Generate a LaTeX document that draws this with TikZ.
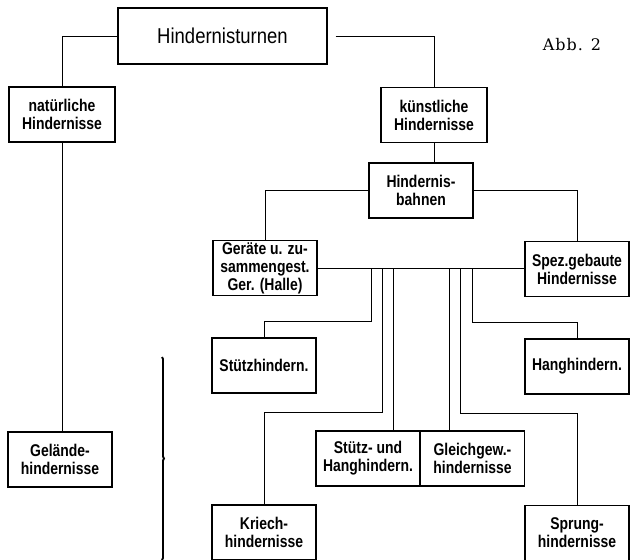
\documentclass[tikz,border=0pt]{standalone}
\usepackage{fontspec}
\setmainfont{Liberation Sans}
\newfontfamily\condfont[FakeStretch=0.82]{Liberation Sans}
\newfontfamily\bigfont[FakeStretch=0.86]{Liberation Sans}
\newfontfamily\abbfont[LetterSpace=6]{DejaVu Serif}
\usetikzlibrary{decorations.pathreplacing}

\begin{document}
\begin{tikzpicture}[x=1pt, y=-1pt, box/.style={draw, rectangle, line width=1.1pt, minimum width=104pt, minimum height=55pt, inner sep=0pt, align=center, font=\condfont\bfseries\fontsize{17}{18}\selectfont}, top/.style={box, minimum width=209pt, minimum height=56pt, font=\bigfont\fontsize{21.5}{23}\selectfont}, n/.style={line width=0.9pt}]
            \useasboundingbox (0,0) rectangle (630,560);
            % nodes
            \node[top] (turnen) at (222.5,36) {Hindernisturnen};
            \node[font=\abbfont\fontsize{16}{18}\selectfont] (abb) at (572,45) {Abb. 2};
            \node[box, minimum width=106pt] (nat) at (62,114.5) {natürliche\\Hindernisse};
            \node[box, minimum width=106pt] (kuen) at (434,115) {künstliche\\Hindernisse};
            \node[box] (bahn) at (421,190.5) {Hindernis-\\bahnen};
            \node[box] (geraete) at (265,268) {Geräte u. zu-\\sammengest.\\Ger. (Halle)};
            \node[box] (spez) at (577,269) {Spez.gebaute\\Hindernisse};
            \node[box] (stuetz) at (264,365.5) {Stützhindern.};
            \node[box] (hang) at (577,366.5) {Hanghindern.};
            \node[box] (stha) at (368,458.5) {Stütz- und\\Hanghindern.};
            \node[box] (gleich) at (472.5,458.5) {Gleichgew.-\\hindernisse};
            \node[box] (gel) at (60,459.5) {Gelände-\\hindernisse};
            \node[box] (kriech) at (264,532.5) {Kriech-\\hindernisse};
            \node[box] (sprung) at (577,533) {Sprung-\\hindernisse};
            % bus points
            \coordinate (d1) at (371,268);
            \coordinate (d2) at (382,268);
            \coordinate (d3) at (393,268);
            \coordinate (d4) at (449,268);
            \coordinate (d5) at (460,268);
            \coordinate (d6) at (472,268);
            % edges
            \draw [n] (turnen.west) -| (nat.north);
            \draw [n] ([xshift=8pt]turnen.east) -| (kuen.north);
            \draw [n] (kuen.south) -- (kuen.south |- bahn.north);
            \draw [n] (bahn.west) -| (geraete.north);
            \draw [n] (bahn.east) -| (spez.north);
            \draw [n] (geraete.east) -- (geraete.east -| spez.west);
            \draw [n] (d1) |- ([yshift=16pt]stuetz.north) -- (stuetz.north);
            \draw [n] (d2) |- ([yshift=92pt]kriech.north) -- (kriech.north);
            \draw [n] (d3) -- (d3 |- stha.north);
            \draw [n] (d4) -- (d4 |- gleich.north);
            \draw [n] (d5) |- ([yshift=92pt]sprung.north) -- (sprung.north);
            \draw [n] (d6) |- ([yshift=16pt]hang.north) -- (hang.north);
            \draw [n] (nat.south) -- (nat.south |- gel.north);
            % brace
            \draw [decorate, decoration={brace, amplitude=2pt}, line width=1.8pt] (162,357) -- (162,560);
        \end{tikzpicture}
\end{document}
